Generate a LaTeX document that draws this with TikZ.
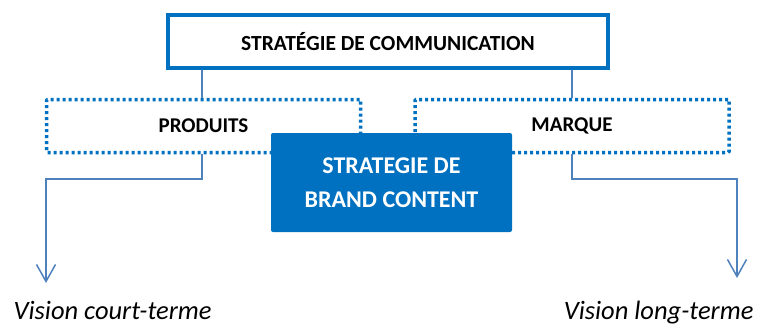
\documentclass[tikz,border=0pt]{standalone}
\usepackage{fontspec}
\setmainfont{Carlito}
\usepackage{tikz}
\usetikzlibrary{arrows.meta,positioning}
\definecolor{bcblue}{HTML}{0070C0}
\definecolor{linkblue}{HTML}{4F81BD}
\tikzset{
  stratbox/.style={draw=bcblue, line width=4pt, fill=white, minimum width=440pt, minimum height=53pt,
    font=\fontsize{21.5}{26}\selectfont\bfseries},
  axisbox/.style={draw=bcblue, line width=3.5pt, dash pattern=on 3pt off 3pt, rounded corners=1pt,
    minimum width=314pt, minimum height=53pt, font=\fontsize{21}{25}\selectfont\bfseries},
  brandbox/.style={fill=bcblue, text=white, rounded corners=2pt, minimum width=241pt, minimum height=99pt,
    align=center, font=\fontsize{24}{34}\selectfont\bfseries},
  link/.style={draw=linkblue, line width=1.5pt},
  vision/.style={font=\fontsize{26.5}{30}\selectfont\itshape}
}
\begin{document}
\begin{tikzpicture}[x=1pt, y=-1pt]
  \useasboundingbox (0,0) rectangle (758,325);
  % top level
  \node[stratbox] (comm) at (388, 41.5) {STRATÉGIE DE COMMUNICATION};
  % the two axes
  \node[axisbox] (prod) at (203.5, 126) {PRODUITS};
  \node[axisbox] (marque) at (572, 126) {MARQUE};
  \draw[link] (comm.south -| 202,0) -- (prod.north -| 202,0);
  \draw[link] (comm.south -| 572,0) -- (marque.north -| 572,0);
  % brand content on top
  \node[brandbox] (brand) at (391.5, 182.5) {STRATEGIE DE\\BRAND CONTENT};
  % outcomes
  \node[vision, anchor=base west] (court) at (10, 319) {Vision court-terme};
  \node[vision, anchor=base east] (long) at (757, 319) {Vision long-terme};
  \coordinate (courtend) at (46, 283);
  \coordinate (longend) at (737, 278);
  \draw[link, -{Straight Barb[length=17pt, width=19pt, line width=1.5pt]}]
    (prod.south -| 202,0) -- (202, 179) -| (courtend);
  \draw[link, -{Straight Barb[length=17pt, width=19pt, line width=1.5pt]}]
    (marque.south -| 572,0) -- (572, 179) -| (longend);
\end{tikzpicture}
\end{document}
